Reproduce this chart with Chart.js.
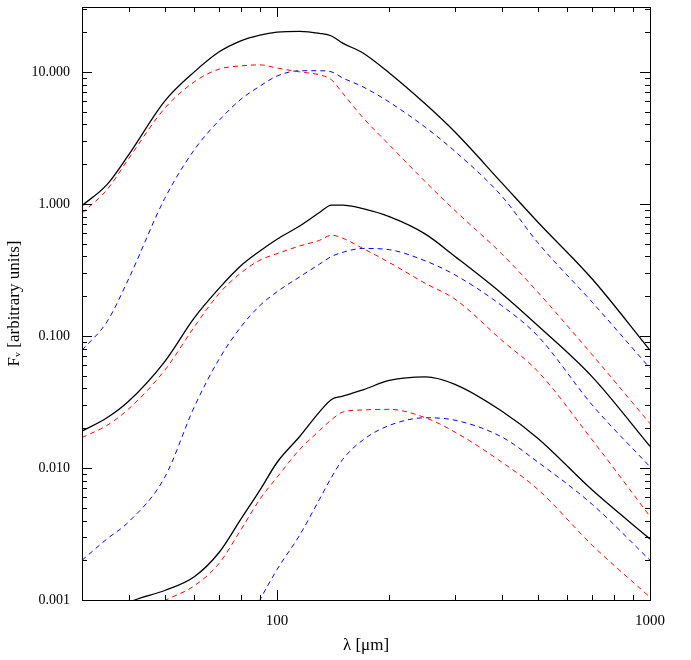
<!DOCTYPE html>
<html><head><meta charset="utf-8">
<script src="https://cdn.jsdelivr.net/npm/chart.js@4"></script>
<style>html,body{margin:0;padding:0;background:#fff}#w{width:691px;height:660px}</style>
</head><body><div id="w"><canvas id="c"></canvas></div>
<script>
const lambda = [30,35,40,50,60,70,80,90,100,115,130,140,150,170,200,250,300,400,500,700,1000];
const topTotal = [0.97,1.4,2.35,6.0,10,14.2,17.2,19,20,20.3,19.6,18.7,16.5,13.9,9.8,5.7,3.5,1.45,0.73,0.27,0.078];
const topRed   = [0.85,1.28,2.2,5.3,8.4,10.5,11.1,11.3,10.7,10,9.5,8.7,6.9,4.5,2.8,1.47,0.89,0.42,0.215,0.072,0.0217];
const topBlue  = [0.078,0.128,0.27,1.1,2.57,4.3,6.2,7.8,9.3,10.2,10.2,10,9,7.7,5.9,3.8,2.5,1.15,0.51,0.18,0.057];
const midTotal = [0.019,0.024,0.032,0.064,0.137,0.23,0.34,0.44,0.54,0.68,0.86,0.98,0.98,0.92,0.8,0.59,0.40,0.21,0.12,0.049,0.0146];
const midRed   = [0.017,0.021,0.028,0.055,0.117,0.21,0.30,0.375,0.42,0.48,0.53,0.58,0.55,0.46,0.36,0.25,0.19,0.093,0.054,0.0163,0.0043];
const midBlue  = [0.0020,0.0029,0.0039,0.0085,0.029,0.067,0.117,0.17,0.216,0.28,0.35,0.40,0.43,0.46,0.45,0.37,0.29,0.17,0.10,0.030,0.0102];
const botTotal = [0.0005,0.0007,0.00095,0.00118,0.0015,0.0023,0.0041,0.0068,0.011,0.0173,0.0266,0.033,0.035,0.039,0.046,0.049,0.043,0.027,0.0168,0.0068,0.0029];
const botRed   = [0.0003,0.0005,0.0007,0.00099,0.00128,0.0019,0.0034,0.0058,0.0085,0.0138,0.0192,0.0232,0.0265,0.0275,0.0278,0.024,0.0187,0.0111,0.0069,0.0026,0.00105];
const botBlue  = [null,null,null,null,null,0.0002,0.0005,0.001,0.0017,0.0031,0.0058,0.0085,0.0116,0.0163,0.021,0.024,0.023,0.0172,0.0111,0.0053,0.0020];
const yMajor = [0.001,0.01,0.1,1,10];
const yLabels = ['0.001','0.010','0.100','1.000','10.000'];

const pts = a => lambda.map((x,i)=>({x, y:a[i]}));
const ds = (a,color,dash,w) => ({data:pts(a),borderColor:color,borderWidth:w,borderDash:dash,pointRadius:0,cubicInterpolationMode:'monotone',fill:false,spanGaps:false});
const FONT = '"Liberation Serif", "DejaVu Serif", serif';

const tickPlugin = {
  id:'ticks',
  afterDraw(chart){
    const {ctx, chartArea:a, scales:{x,y}} = chart;
    ctx.save(); ctx.strokeStyle='#000'; ctx.lineWidth=1;
    ctx.strokeRect(a.left+0.5,a.top+0.5,a.right-a.left,a.bottom-a.top);
    const tk=(x1,y1,x2,y2)=>{ctx.beginPath();ctx.moveTo(x1,y1);ctx.lineTo(x2,y2);ctx.stroke();};
    for(let e=-3;e<=1;e++) for(let m=1;m<=9;m++){
      const v=m*Math.pow(10,e); if(v>y.max) continue;
      const p=Math.round(y.getPixelForValue(v))+0.5, L=m===1?10:5;
      tk(a.left,p,a.left+L,p); tk(a.right,p,a.right-L,p);
    }
    for(let e=1;e<=3;e++) for(let m=1;m<=9;m++){
      const v=m*Math.pow(10,e); if(v<x.min||v>x.max) continue;
      const p=Math.round(x.getPixelForValue(v))+0.5, L=m===1?10:5;
      tk(p,a.bottom,p,a.bottom-L); tk(p,a.top,p,a.top+L);
    }
    ctx.restore();
  }
};

new Chart(document.getElementById('c'),{
  type:'line',
  data:{datasets:[
    ds(topRed,'#ff0000',[5,4],1), ds(topBlue,'#0000ff',[5,4],1), ds(topTotal,'#000',[],1.3),
    ds(midRed,'#ff0000',[5,4],1), ds(midBlue,'#0000ff',[5,4],1), ds(midTotal,'#000',[],1.3),
    ds(botRed,'#ff0000',[5,4],1), ds(botBlue,'#0000ff',[5,4],1), ds(botTotal,'#000',[],1.3)
  ]},
  options:{
    responsive:true, maintainAspectRatio:false, animation:false,
    layout:{padding:{top:7,right:41,left:0,bottom:0}},
    plugins:{legend:{display:false},tooltip:{enabled:false}},
    scales:{
      x:{type:'logarithmic',min:30,max:1000,
        grid:{display:false},border:{display:false},
        afterBuildTicks:s=>{s.ticks=[{value:100},{value:1000}];},
        ticks:{callback:v=>String(v),color:'#000',font:{family:FONT,size:15},maxRotation:0,padding:4},
        title:{display:true,text:'λ [μm]',color:'#000',font:{family:FONT,size:17},padding:{top:6}},
        afterFit:s=>{s.height=60;s.paddingLeft=0;s.paddingRight=0;}},
      y:{type:'logarithmic',min:0.001,max:31,
        grid:{display:false},border:{display:false},
        afterBuildTicks:s=>{s.ticks=yMajor.map(v=>({value:v}));},
        ticks:{callback:(v)=>yLabels[yMajor.findIndex(m=>Math.abs(m-v)/m<1e-6)],color:'#000',font:{family:FONT,size:14},padding:4},
        title:{display:true,text:'Fᵥ [arbitrary units]',color:'#000',font:{family:FONT,size:17},padding:{bottom:4}},
        afterFit:s=>{s.width=82;s.paddingTop=0;s.paddingBottom=0;}}
    }
  },
  plugins:[tickPlugin]
});
</script></body></html>
